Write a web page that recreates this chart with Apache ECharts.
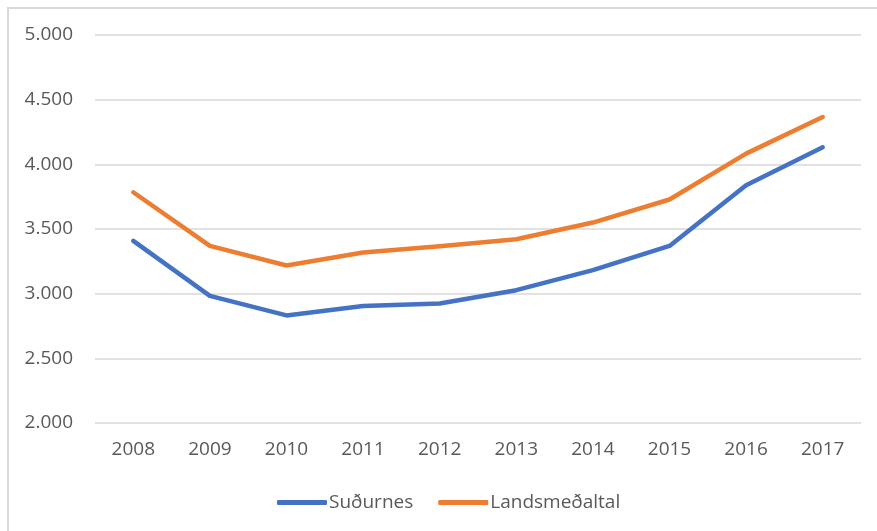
<!DOCTYPE html>
<html>
<head>
<meta charset="utf-8">
<script src="https://cdn.jsdelivr.net/npm/echarts@6/dist/echarts.min.js"></script>
<style>
html,body{margin:0;padding:0;background:#fff;}
#chart{width:877px;height:531px;}
</style>
</head>
<body>
<div id="chart"></div>
<script>
const categories = ['2008','2009','2010','2011','2012','2013','2014','2015','2016','2017'];
const sudurnes = [3408, 2983, 2832, 2904, 2924, 3027, 3182, 3369, 3838, 4132];
const landsmedaltal = [3784, 3369, 3218, 3318, 3367, 3421, 3550, 3728, 4083, 4366];
const seriesNames = ['Suðurnes', 'Landsmeðaltal'];

const chart = echarts.init(document.getElementById('chart'), null, {renderer: 'canvas'});
const font = '"Open Sans", sans-serif';
chart.setOption({
  backgroundColor: '#fff',
  animation: false,
  graphic: [{
    type: 'rect',
    shape: {x: 8, y: 8, width: 900, height: 600},
    style: {fill: 'none', stroke: '#d9d9d9', lineWidth: 2},
    silent: true
  }],
  grid: {left: 95, right: 16, top: 35, bottom: 108},
  legend: {
    data: seriesNames,
    left: 272,
    top: 488,
    itemWidth: 50,
    itemHeight: 5,
    itemGap: 25,
    icon: 'roundRect',
    textStyle: {fontFamily: font, fontSize: 19, color: '#595959', padding: [0,0,0,-3]}
  },
  xAxis: {
    type: 'category',
    data: categories,
    boundaryGap: true,
    axisLine: {show: false},
    axisTick: {show: false},
    axisLabel: {fontFamily: font, fontSize: 19, color: '#595959', margin: 17}
  },
  yAxis: {
    type: 'value',
    min: 2000,
    max: 5000,
    interval: 500,
    axisLine: {show: false},
    axisTick: {show: false},
    splitLine: {lineStyle: {color: '#d9d9d9', width: 1.5}},
    axisLabel: {
      fontFamily: font, fontSize: 19, color: '#595959', margin: 22,
      formatter: v => {
        const s = String(Math.round(v));
        return s.replace(/\B(?=(\d{3})+(?!\d))/g, '.');
      }
    }
  },
  series: [
    {
      name: seriesNames[0], type: 'line', data: sudurnes,
      symbol: 'none', color: '#4472C4',
      lineStyle: {width: 4.5, color: '#4472C4', cap: 'round', join: 'round'}
    },
    {
      name: seriesNames[1], type: 'line', data: landsmedaltal,
      symbol: 'none', color: '#ED7D31',
      lineStyle: {width: 4.5, color: '#ED7D31', cap: 'round', join: 'round'}
    }
  ]
});
</script>
</body>
</html>
